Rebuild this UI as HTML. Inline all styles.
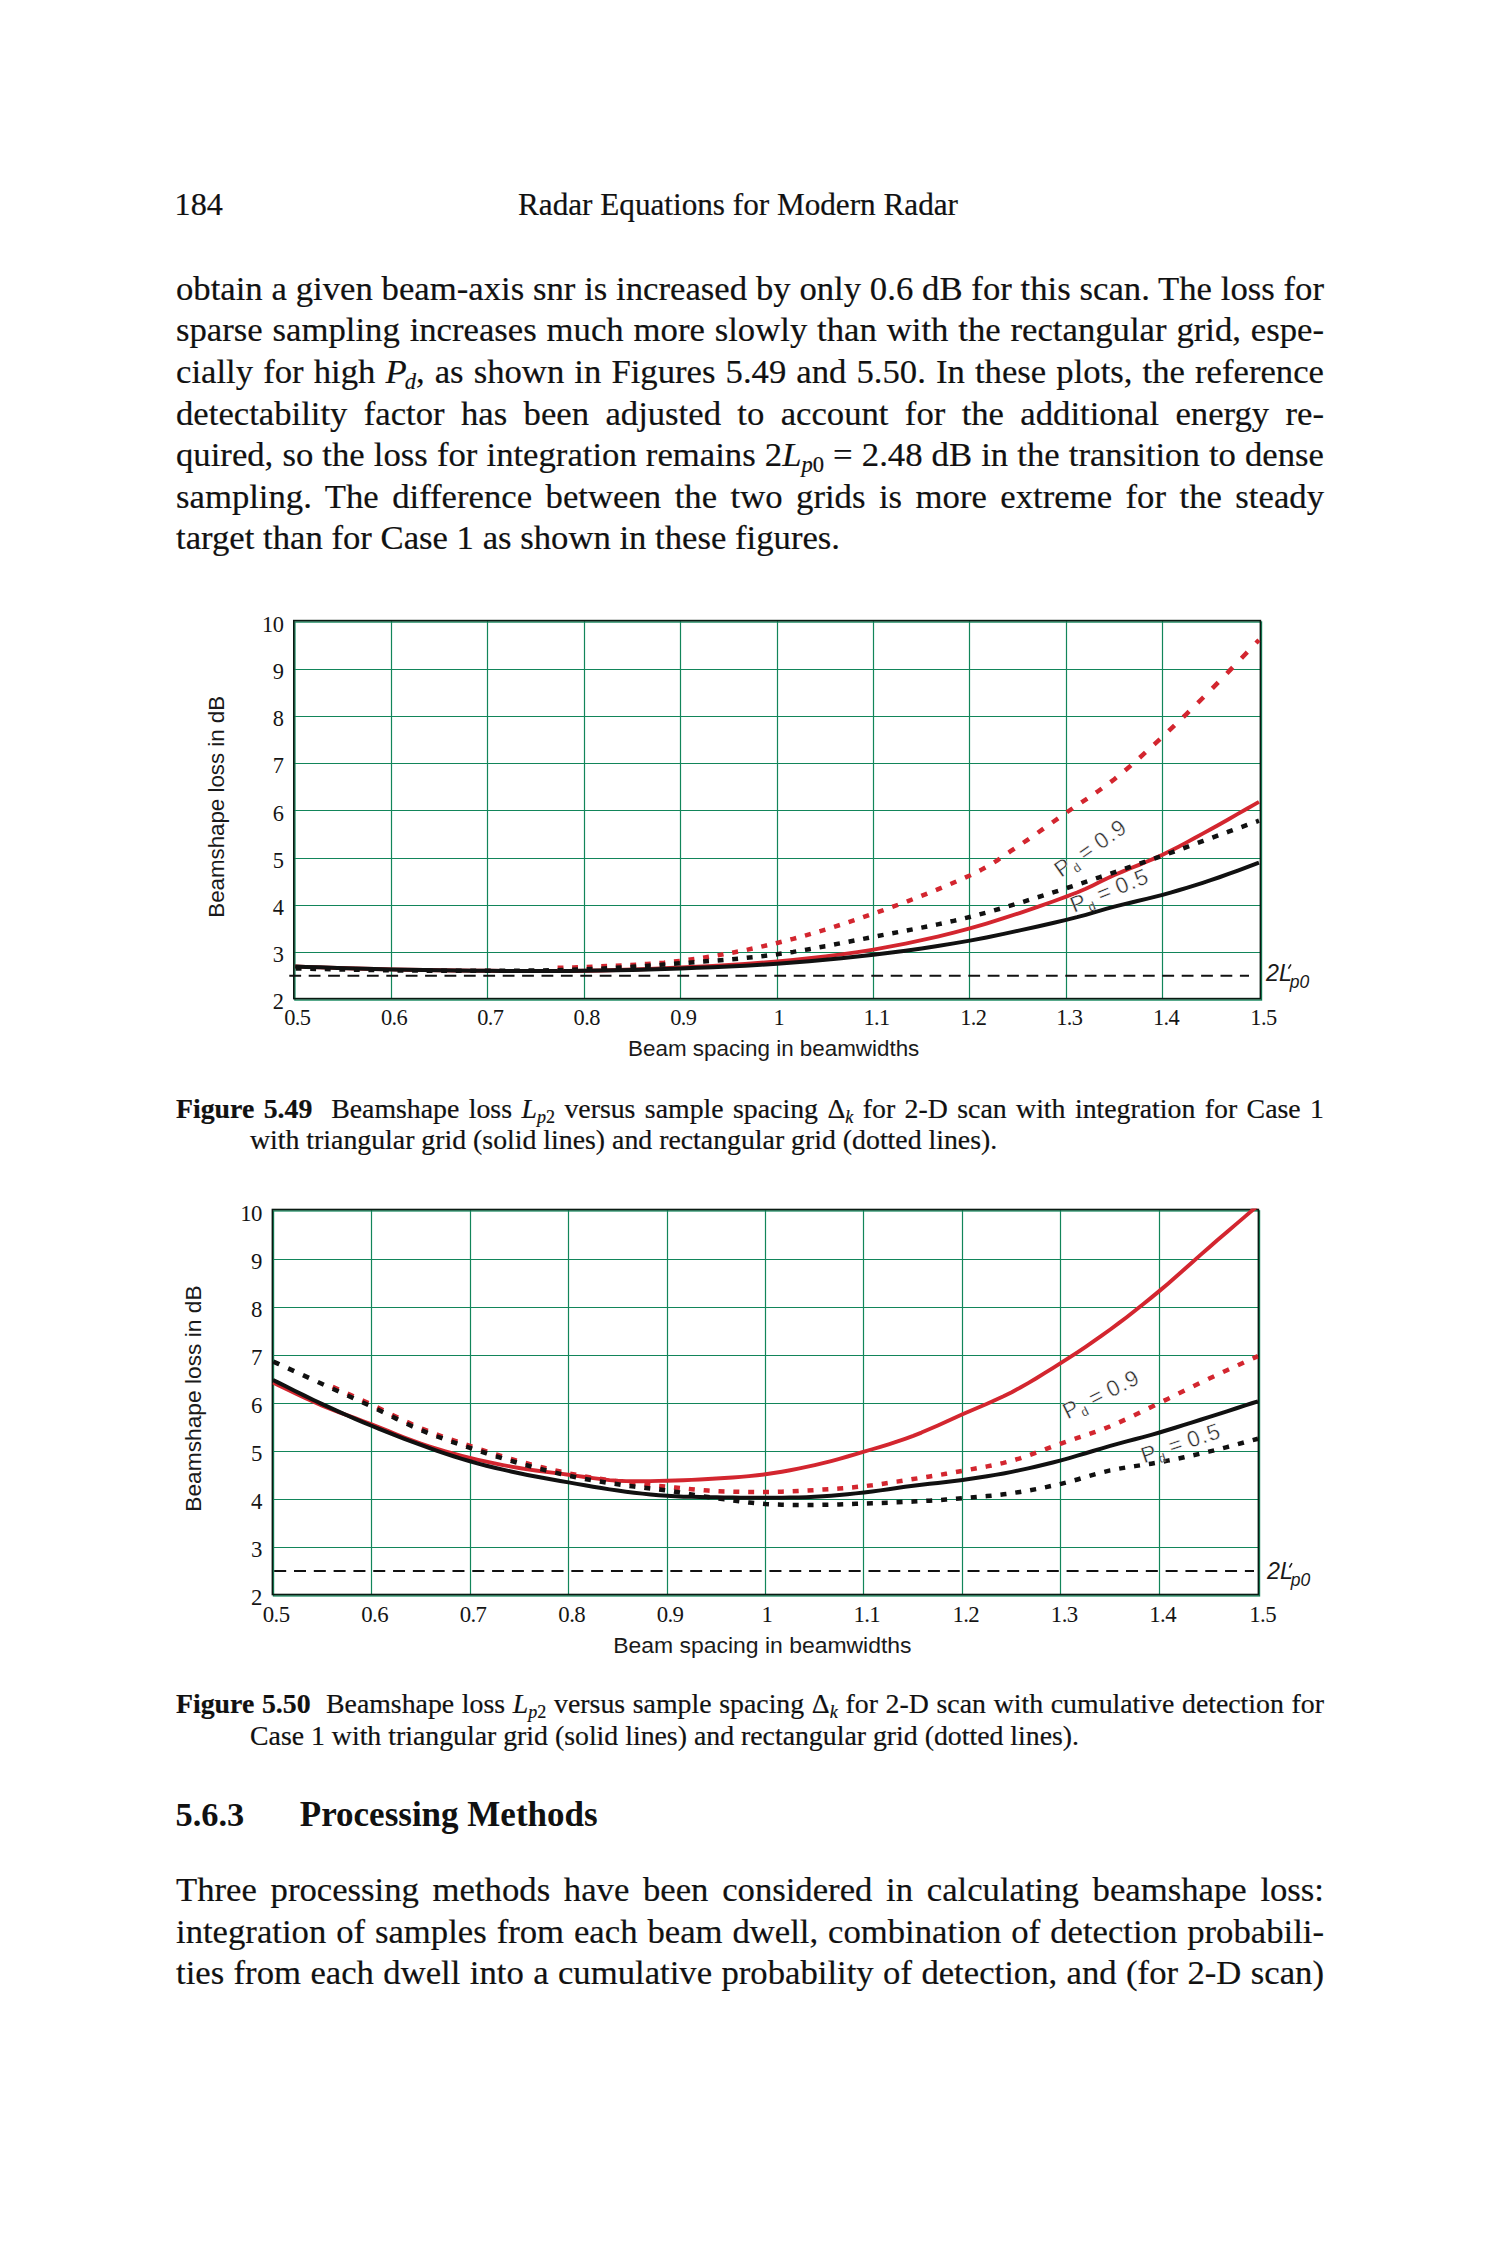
<!DOCTYPE html>
<html><head><meta charset="utf-8">
<style>
html,body{margin:0;padding:0;background:#fff;}
#pg{position:relative;width:1500px;height:2250px;overflow:hidden;background:#fff;color:#111;font-family:"Liberation Serif", serif;}
.ln{position:absolute;white-space:nowrap;line-height:1;-webkit-text-stroke:0.2px #111;}
.ln.j{text-align:justify;text-align-last:justify;white-space:normal;}
sub{font-size:65%;vertical-align:baseline;position:relative;top:0.25em;line-height:0;}
svg{position:absolute;left:0;top:0;}
</style></head><body><div id="pg">
<svg width="1500" height="2250" viewBox="0 0 1500 2250">
<line x1="391.50" y1="620.60" x2="391.50" y2="998.60" stroke="#12855a" stroke-width="1.2"/>
<line x1="487.50" y1="620.60" x2="487.50" y2="998.60" stroke="#12855a" stroke-width="1.2"/>
<line x1="584.50" y1="620.60" x2="584.50" y2="998.60" stroke="#12855a" stroke-width="1.2"/>
<line x1="680.50" y1="620.60" x2="680.50" y2="998.60" stroke="#12855a" stroke-width="1.2"/>
<line x1="777.50" y1="620.60" x2="777.50" y2="998.60" stroke="#12855a" stroke-width="1.2"/>
<line x1="873.50" y1="620.60" x2="873.50" y2="998.60" stroke="#12855a" stroke-width="1.2"/>
<line x1="969.50" y1="620.60" x2="969.50" y2="998.60" stroke="#12855a" stroke-width="1.2"/>
<line x1="1066.50" y1="620.60" x2="1066.50" y2="998.60" stroke="#12855a" stroke-width="1.2"/>
<line x1="1162.50" y1="620.60" x2="1162.50" y2="998.60" stroke="#12855a" stroke-width="1.2"/>
<line x1="293.80" y1="952.50" x2="1260.40" y2="952.50" stroke="#12855a" stroke-width="1.2"/>
<line x1="293.80" y1="905.50" x2="1260.40" y2="905.50" stroke="#12855a" stroke-width="1.2"/>
<line x1="293.80" y1="858.50" x2="1260.40" y2="858.50" stroke="#12855a" stroke-width="1.2"/>
<line x1="293.80" y1="810.50" x2="1260.40" y2="810.50" stroke="#12855a" stroke-width="1.2"/>
<line x1="293.80" y1="763.50" x2="1260.40" y2="763.50" stroke="#12855a" stroke-width="1.2"/>
<line x1="293.80" y1="716.50" x2="1260.40" y2="716.50" stroke="#12855a" stroke-width="1.2"/>
<line x1="293.80" y1="669.50" x2="1260.40" y2="669.50" stroke="#12855a" stroke-width="1.2"/>
<rect x="294.90" y="622.00" width="966.60" height="378.00" fill="none" stroke="#12855a" stroke-width="1.4"/>
<rect x="293.80" y="620.60" width="966.60" height="378.00" fill="none" stroke="#0a1a12" stroke-width="1.6"/>
<path d="M289.30 975.70H301.10M308.70 975.70H320.50M328.10 975.70H339.90M347.50 975.70H359.30M366.90 975.70H378.70M386.30 975.70H398.10M405.70 975.70H417.50M425.10 975.70H436.90M444.50 975.70H456.30M463.90 975.70H475.70M483.30 975.70H495.10M502.70 975.70H514.50M522.10 975.70H533.90M541.50 975.70H553.30M560.90 975.70H572.70M580.30 975.70H592.10M599.70 975.70H611.50M619.10 975.70H630.90M638.50 975.70H650.30M657.90 975.70H669.70M677.30 975.70H689.10M696.70 975.70H708.50M716.10 975.70H727.90M735.50 975.70H747.30M754.90 975.70H766.70M774.30 975.70H786.10M793.70 975.70H805.50M813.10 975.70H824.90M832.50 975.70H844.30M851.90 975.70H863.70M871.30 975.70H883.10M890.70 975.70H902.50M910.10 975.70H921.90M929.50 975.70H941.30M948.90 975.70H960.70M968.30 975.70H980.10M987.70 975.70H999.50M1007.10 975.70H1018.90M1026.50 975.70H1038.30M1045.90 975.70H1057.70M1065.30 975.70H1077.10M1084.70 975.70H1096.50M1104.10 975.70H1115.90M1123.50 975.70H1135.30M1142.90 975.70H1154.70M1162.30 975.70H1174.10M1181.70 975.70H1193.50M1201.10 975.70H1212.90M1220.50 975.70H1232.30M1239.90 975.70H1249.00" stroke="#111" stroke-width="2.1" fill="none"/>
<clipPath id="clip295"><rect x="293.80" y="619.60" width="966.60" height="380.00"/></clipPath>
<g clip-path="url(#clip295)" fill="none" stroke-linejoin="round">
<polyline points="295.20,966.56 305.69,966.88 320.19,967.35 337.36,967.89 355.88,968.45 374.40,968.97 391.57,969.39 407.64,969.73 423.70,970.02 439.76,970.28 455.82,970.49 471.89,970.67 487.95,970.81 504.01,970.93 520.07,971.04 536.14,971.10 552.20,971.11 568.26,971.02 584.33,970.81 600.39,970.48 616.45,970.06 632.51,969.54 648.58,968.94 664.64,968.26 680.70,967.50 696.76,966.71 712.83,965.88 728.89,964.97 744.95,963.94 761.01,962.75 777.08,961.37 793.14,959.84 809.20,958.20 825.26,956.41 841.33,954.41 857.39,952.15 873.45,949.57 889.51,946.69 905.58,943.57 921.64,940.19 937.70,936.53 953.76,932.58 969.83,928.33 986.45,923.54 1003.73,918.19 1021.02,912.55 1037.64,906.90 1052.93,901.52 1066.20,896.70 1077.02,892.50 1085.83,888.68 1093.31,885.14 1100.11,881.76 1106.91,878.41 1114.39,874.99 1122.42,871.59 1130.45,868.31 1138.48,865.08 1146.51,861.79 1154.54,858.36 1162.57,854.70 1170.61,850.77 1178.64,846.65 1186.67,842.39 1194.70,838.04 1202.73,833.63 1210.76,829.21 1219.35,824.44 1228.61,819.21 1237.87,813.93 1246.46,809.00 1253.71,804.83 1258.95,801.83" stroke="#d3262f" stroke-width="3.9"/>
<polyline points="295.20,966.56 305.69,966.88 320.19,967.35 337.36,967.89 355.88,968.45 374.40,968.97 391.57,969.39 407.64,969.73 423.70,970.02 439.76,970.28 455.82,970.49 471.89,970.67 487.95,970.81 504.01,970.92 520.07,971.00 536.14,971.04 552.20,971.04 568.26,970.96 584.33,970.81 600.39,970.58 616.45,970.28 632.51,969.92 648.58,969.50 664.64,969.01 680.70,968.45 696.76,967.85 712.83,967.21 728.89,966.50 744.95,965.70 761.01,964.79 777.08,963.73 793.14,962.54 809.20,961.25 825.26,959.83 841.33,958.29 857.39,956.60 873.45,954.76 889.51,952.78 905.58,950.67 921.64,948.42 937.70,946.00 953.76,943.40 969.83,940.60 986.45,937.43 1003.73,933.89 1021.02,930.16 1037.64,926.44 1052.93,922.93 1066.20,919.83 1077.02,917.18 1085.83,914.81 1093.31,912.66 1100.11,910.64 1106.91,908.65 1114.39,906.62 1122.42,904.60 1130.45,902.68 1138.48,900.80 1146.51,898.91 1154.54,896.93 1162.57,894.82 1170.61,892.57 1178.64,890.25 1186.67,887.85 1194.70,885.38 1202.73,882.82 1210.76,880.18 1219.35,877.24 1228.61,873.93 1237.87,870.54 1246.46,867.35 1253.71,864.65 1258.95,862.72" stroke="#111" stroke-width="4.0"/>
<path d="M557.60 967.82L563.46 967.75M572.15 967.53L573.51 967.49L578.01 967.30M586.70 966.93L592.56 966.67M601.25 966.29L607.11 966.05M615.80 965.67L621.66 965.40M630.35 964.98L636.21 964.63M644.90 964.12L646.79 964.01L650.76 963.70M659.45 963.02L664.08 962.66L665.31 962.53M674.00 961.61L679.86 960.99M688.55 959.83L694.41 959.04M703.10 957.73L708.96 956.81M717.65 955.36L723.51 954.32M732.20 952.72L738.06 951.57M746.75 949.83L752.61 948.56M761.30 946.67L767.16 945.29M775.85 943.25L777.08 942.96L781.71 941.77M790.40 939.54L793.14 938.84L796.26 937.97M804.95 935.56L809.20 934.38L810.81 933.90M819.50 931.31L825.26 929.60L825.36 929.57M834.05 926.83L839.91 924.98M848.60 922.13L854.46 920.19M863.15 917.24L869.01 915.22M877.70 912.17L883.56 910.07M892.25 906.93L898.11 904.74M906.80 901.49L907.36 901.28L912.66 899.23M921.35 895.86L924.65 894.58L927.21 893.55M935.90 890.04L941.27 887.88L941.76 887.67M950.45 884.00L956.31 881.52M965.00 877.63L969.83 875.46L970.86 874.95M979.55 870.66L980.64 870.12L985.41 867.46M994.10 862.30L996.93 860.54L999.96 858.49M1008.65 852.53L1010.54 851.22L1014.51 848.55M1023.20 842.75L1026.04 840.86L1029.06 838.79M1037.75 832.77L1042.11 829.71L1043.61 828.64M1052.30 822.48L1058.16 818.33M1066.85 812.24L1072.71 808.25M1081.40 802.42L1082.26 801.85L1087.26 798.52M1095.95 792.63L1098.33 791.01L1101.81 788.52M1110.50 782.13L1114.39 779.18L1116.36 777.58M1125.05 770.43L1130.45 765.84L1130.91 765.43M1139.60 757.75L1145.46 752.45M1154.15 744.49L1154.54 744.13L1160.01 739.07M1168.70 730.97L1170.61 729.19L1174.56 725.43M1183.25 717.10L1186.67 713.80L1189.11 711.42M1197.80 702.88L1202.73 698.00L1203.66 697.07M1212.35 688.36L1218.21 682.40M1226.90 673.45L1228.61 671.68L1232.76 667.36M1241.45 658.28L1246.46 653.03L1247.31 652.14M1256.00 643.02L1258.95 639.94" stroke="#d3262f" stroke-width="4.5" stroke-linecap="butt"/>
<path d="M295.70 968.46L301.56 968.58M310.25 968.77L316.11 968.90M324.80 969.09L330.66 969.22M339.35 969.40L345.21 969.52M353.90 969.70L355.88 969.74L359.76 969.81M368.45 969.97L374.31 970.08M383.00 970.21L388.86 970.30M397.55 970.40L403.41 970.47M412.10 970.56L417.96 970.61M426.65 970.69L432.51 970.73M441.20 970.78L447.06 970.81M455.75 970.84L455.82 970.84L461.61 970.85M470.30 970.85L471.89 970.85L476.16 970.84M484.85 970.82L487.95 970.81L490.71 970.80M499.40 970.76L504.01 970.74L505.26 970.73M513.95 970.68L519.81 970.65M528.50 970.58L534.36 970.53M543.05 970.41L548.91 970.33M557.60 970.16L563.46 970.03M572.15 969.79L578.01 969.60M586.70 969.29L592.56 969.02M601.25 968.63L607.11 968.31M615.80 967.84L616.45 967.80L621.66 967.48M630.35 966.93L632.51 966.80L636.21 966.54M644.90 965.94L648.58 965.69L650.76 965.52M659.45 964.88L664.64 964.50L665.31 964.45M674.00 963.77L679.86 963.32M688.55 962.65L694.41 962.20M703.10 961.54L708.96 961.09M717.65 960.40L723.51 959.92M732.20 959.18L738.06 958.64M746.75 957.82L752.61 957.20M761.30 956.27L767.16 955.53M775.85 954.44L777.08 954.29L781.71 953.60M790.40 952.30L793.14 951.90L796.26 951.37M804.95 949.90L809.20 949.18L810.81 948.89M819.50 947.29L825.26 946.23L825.36 946.22M834.05 944.54L839.91 943.41M848.60 941.70L854.46 940.55M863.15 938.84L869.01 937.69M877.70 936.01L883.56 934.90M892.25 933.24L898.11 932.13M906.80 930.49L912.66 929.35M921.35 927.68L921.64 927.62L927.21 926.49M935.90 924.73L937.70 924.36L941.76 923.47M950.45 921.57L953.76 920.85L956.31 920.24M965.00 918.16L969.83 917.00L970.86 916.73M979.55 914.44L985.41 912.89M994.10 910.43L999.96 908.77M1008.65 906.20L1014.51 904.45M1023.20 901.79L1029.06 899.97M1037.75 897.25L1043.61 895.40M1052.30 892.64L1058.16 890.77M1066.85 888.00L1072.71 886.10M1081.40 883.28L1082.82 882.82L1087.26 881.35M1095.95 878.46L1100.11 877.07L1101.81 876.50M1110.50 873.55L1116.36 871.57M1125.05 868.59L1130.91 866.58M1139.60 863.59L1145.46 861.56M1154.15 858.56L1160.01 856.53M1168.70 853.50L1173.39 851.86L1174.56 851.44M1183.25 848.32L1189.11 846.17M1197.80 842.95L1203.29 840.91L1203.66 840.78M1212.35 837.60L1218.21 835.48M1226.90 832.33L1228.61 831.71L1232.76 830.20M1241.45 827.05L1246.46 825.24L1247.31 824.93M1256.00 821.78L1258.95 820.71" stroke="#111" stroke-width="4.5" stroke-linecap="butt"/>
</g>
<text x="283.50" y="1009.40" text-anchor="end" font-family="Liberation Serif" font-size="22.4" letter-spacing="-0.5" fill="#151515">2</text>
<text x="283.50" y="962.20" text-anchor="end" font-family="Liberation Serif" font-size="22.4" letter-spacing="-0.5" fill="#151515">3</text>
<text x="283.50" y="915.00" text-anchor="end" font-family="Liberation Serif" font-size="22.4" letter-spacing="-0.5" fill="#151515">4</text>
<text x="283.50" y="867.80" text-anchor="end" font-family="Liberation Serif" font-size="22.4" letter-spacing="-0.5" fill="#151515">5</text>
<text x="283.50" y="820.60" text-anchor="end" font-family="Liberation Serif" font-size="22.4" letter-spacing="-0.5" fill="#151515">6</text>
<text x="283.50" y="773.40" text-anchor="end" font-family="Liberation Serif" font-size="22.4" letter-spacing="-0.5" fill="#151515">7</text>
<text x="283.50" y="726.20" text-anchor="end" font-family="Liberation Serif" font-size="22.4" letter-spacing="-0.5" fill="#151515">8</text>
<text x="283.50" y="679.00" text-anchor="end" font-family="Liberation Serif" font-size="22.4" letter-spacing="-0.5" fill="#151515">9</text>
<text x="283.50" y="631.80" text-anchor="end" font-family="Liberation Serif" font-size="22.4" letter-spacing="-0.5" fill="#151515">10</text>
<text x="297.30" y="1025.00" text-anchor="middle" font-family="Liberation Serif" font-size="22.4" letter-spacing="-0.6" fill="#151515">0.5</text>
<text x="394.00" y="1025.00" text-anchor="middle" font-family="Liberation Serif" font-size="22.4" letter-spacing="-0.6" fill="#151515">0.6</text>
<text x="490.30" y="1025.00" text-anchor="middle" font-family="Liberation Serif" font-size="22.4" letter-spacing="-0.6" fill="#151515">0.7</text>
<text x="586.70" y="1025.00" text-anchor="middle" font-family="Liberation Serif" font-size="22.4" letter-spacing="-0.6" fill="#151515">0.8</text>
<text x="683.30" y="1025.00" text-anchor="middle" font-family="Liberation Serif" font-size="22.4" letter-spacing="-0.6" fill="#151515">0.9</text>
<text x="778.70" y="1025.00" text-anchor="middle" font-family="Liberation Serif" font-size="22.4" letter-spacing="-0.6" fill="#151515">1</text>
<text x="876.60" y="1025.00" text-anchor="middle" font-family="Liberation Serif" font-size="22.4" letter-spacing="-0.6" fill="#151515">1.1</text>
<text x="973.30" y="1025.00" text-anchor="middle" font-family="Liberation Serif" font-size="22.4" letter-spacing="-0.6" fill="#151515">1.2</text>
<text x="1069.30" y="1025.00" text-anchor="middle" font-family="Liberation Serif" font-size="22.4" letter-spacing="-0.6" fill="#151515">1.3</text>
<text x="1166.00" y="1025.00" text-anchor="middle" font-family="Liberation Serif" font-size="22.4" letter-spacing="-0.6" fill="#151515">1.4</text>
<text x="1263.40" y="1025.00" text-anchor="middle" font-family="Liberation Serif" font-size="22.4" letter-spacing="-0.6" fill="#151515">1.5</text>
<text transform="translate(223.80,806.80) rotate(-90)" text-anchor="middle" font-family="Liberation Sans" font-size="22.3" fill="#1a1a1a">Beamshape loss in dB</text>
<text x="773.70" y="1056.00" text-anchor="middle" font-family="Liberation Sans" font-size="22.4" fill="#1a1a1a">Beam spacing in beamwidths</text>
<text x="1266.00" y="980.50" font-family="Liberation Sans" font-style="italic" font-size="23.3" fill="#1a1a1a">2L</text>
<path d="M1291.00 964.30L1288.40 968.70" stroke="#1a1a1a" stroke-width="1.5" fill="none"/>
<text x="1289.80" y="987.50" font-family="Liberation Sans" font-style="italic" font-size="17.5" fill="#1a1a1a">p0</text>
<text transform="translate(1061.00,878.00) rotate(-35)" font-family="Liberation Sans" font-size="22.5" fill="#262626" stroke="#fff" stroke-width="0.45" paint-order="normal" letter-spacing="1.0">P<tspan font-size="12.4" dy="5" dx="-0.5" stroke-width="0.15">d</tspan><tspan dy="-5" dx="5.5">=</tspan><tspan dx="5.5">0.9</tspan></text>
<text transform="translate(1074.00,913.00) rotate(-22)" font-family="Liberation Sans" font-size="22.5" fill="#262626" stroke="#fff" stroke-width="0.45" paint-order="normal" letter-spacing="1.0">P<tspan font-size="12.4" dy="5" dx="-0.5" stroke-width="0.15">d</tspan><tspan dy="-5" dx="5.5">=</tspan><tspan dx="5.5">0.5</tspan></text>
<line x1="371.50" y1="1209.50" x2="371.50" y2="1594.50" stroke="#12855a" stroke-width="1.2"/>
<line x1="470.50" y1="1209.50" x2="470.50" y2="1594.50" stroke="#12855a" stroke-width="1.2"/>
<line x1="568.50" y1="1209.50" x2="568.50" y2="1594.50" stroke="#12855a" stroke-width="1.2"/>
<line x1="667.50" y1="1209.50" x2="667.50" y2="1594.50" stroke="#12855a" stroke-width="1.2"/>
<line x1="765.50" y1="1209.50" x2="765.50" y2="1594.50" stroke="#12855a" stroke-width="1.2"/>
<line x1="863.50" y1="1209.50" x2="863.50" y2="1594.50" stroke="#12855a" stroke-width="1.2"/>
<line x1="962.50" y1="1209.50" x2="962.50" y2="1594.50" stroke="#12855a" stroke-width="1.2"/>
<line x1="1060.50" y1="1209.50" x2="1060.50" y2="1594.50" stroke="#12855a" stroke-width="1.2"/>
<line x1="1159.50" y1="1209.50" x2="1159.50" y2="1594.50" stroke="#12855a" stroke-width="1.2"/>
<line x1="272.40" y1="1547.50" x2="1258.40" y2="1547.50" stroke="#12855a" stroke-width="1.2"/>
<line x1="272.40" y1="1499.50" x2="1258.40" y2="1499.50" stroke="#12855a" stroke-width="1.2"/>
<line x1="272.40" y1="1451.50" x2="1258.40" y2="1451.50" stroke="#12855a" stroke-width="1.2"/>
<line x1="272.40" y1="1403.50" x2="1258.40" y2="1403.50" stroke="#12855a" stroke-width="1.2"/>
<line x1="272.40" y1="1355.50" x2="1258.40" y2="1355.50" stroke="#12855a" stroke-width="1.2"/>
<line x1="272.40" y1="1307.50" x2="1258.40" y2="1307.50" stroke="#12855a" stroke-width="1.2"/>
<line x1="272.40" y1="1259.50" x2="1258.40" y2="1259.50" stroke="#12855a" stroke-width="1.2"/>
<rect x="273.50" y="1210.90" width="986.00" height="385.00" fill="none" stroke="#12855a" stroke-width="1.4"/>
<rect x="272.40" y="1209.50" width="986.00" height="385.00" fill="none" stroke="#0a1a12" stroke-width="1.6"/>
<path d="M274.19 1571.00H286.19M294.00 1571.00H306.00M313.81 1571.00H325.81M333.62 1571.00H345.62M353.43 1571.00H365.43M373.24 1571.00H385.24M393.05 1571.00H405.05M412.86 1571.00H424.86M432.67 1571.00H444.67M452.48 1571.00H464.48M472.29 1571.00H484.29M492.10 1571.00H504.10M511.91 1571.00H523.91M531.72 1571.00H543.72M551.53 1571.00H563.53M571.34 1571.00H583.34M591.15 1571.00H603.15M610.96 1571.00H622.96M630.77 1571.00H642.77M650.58 1571.00H662.58M670.39 1571.00H682.39M690.20 1571.00H702.20M710.01 1571.00H722.01M729.82 1571.00H741.82M749.63 1571.00H761.63M769.44 1571.00H781.44M789.25 1571.00H801.25M809.06 1571.00H821.06M828.87 1571.00H840.87M848.68 1571.00H860.68M868.49 1571.00H880.49M888.30 1571.00H900.30M908.11 1571.00H920.11M927.92 1571.00H939.92M947.73 1571.00H959.73M967.54 1571.00H979.54M987.35 1571.00H999.35M1007.16 1571.00H1019.16M1026.97 1571.00H1038.97M1046.78 1571.00H1058.78M1066.59 1571.00H1078.59M1086.40 1571.00H1098.40M1106.21 1571.00H1118.21M1126.02 1571.00H1138.02M1145.83 1571.00H1157.83M1165.64 1571.00H1177.64M1185.45 1571.00H1197.45M1205.26 1571.00H1217.26M1225.07 1571.00H1237.07M1244.88 1571.00H1254.00" stroke="#111" stroke-width="2.1" fill="none"/>
<clipPath id="clip273"><rect x="272.40" y="1208.50" width="986.00" height="387.00"/></clipPath>
<g clip-path="url(#clip273)" fill="none" stroke-linejoin="round">
<polyline points="273.00,1382.56 278.36,1385.12 285.77,1388.69 294.55,1392.91 304.01,1397.39 313.47,1401.74 322.25,1405.60 330.46,1408.96 338.67,1412.14 346.88,1415.20 355.08,1418.20 363.29,1421.22 371.50,1424.32 379.71,1427.55 387.92,1430.86 396.12,1434.19 404.33,1437.46 412.54,1440.59 420.75,1443.52 428.96,1446.25 437.17,1448.84 445.38,1451.29 453.58,1453.62 461.79,1455.83 470.00,1457.92 478.21,1459.89 486.42,1461.72 494.62,1463.44 502.83,1465.05 511.04,1466.56 519.25,1468.00 527.46,1469.32 535.67,1470.52 543.88,1471.62 552.08,1472.66 560.29,1473.68 568.50,1474.72 576.71,1475.83 584.92,1477.00 593.12,1478.14 601.33,1479.19 609.54,1480.08 617.75,1480.72 625.96,1481.09 634.17,1481.24 642.38,1481.23 650.58,1481.10 658.79,1480.91 667.00,1480.72 675.21,1480.51 683.42,1480.24 691.62,1479.91 699.83,1479.52 708.04,1479.07 716.25,1478.56 724.46,1478.02 732.67,1477.46 740.88,1476.84 749.08,1476.12 757.29,1475.26 765.50,1474.24 773.71,1473.05 781.92,1471.72 790.12,1470.25 798.33,1468.66 806.54,1466.95 814.75,1465.12 822.96,1463.16 831.17,1461.05 839.38,1458.82 847.58,1456.50 855.79,1454.11 864.00,1451.68 872.21,1449.25 880.42,1446.79 888.62,1444.27 896.83,1441.64 905.04,1438.84 913.25,1435.84 921.46,1432.58 929.67,1429.08 937.87,1425.43 946.08,1421.69 954.29,1417.93 962.50,1414.24 970.71,1410.67 978.92,1407.18 987.13,1403.68 995.33,1400.07 1003.54,1396.26 1011.75,1392.16 1019.96,1387.74 1028.17,1383.08 1036.38,1378.22 1044.58,1373.21 1052.79,1368.08 1061.00,1362.88 1069.21,1357.62 1077.42,1352.26 1085.63,1346.79 1093.83,1341.18 1102.04,1335.43 1110.25,1329.52 1118.46,1323.44 1126.67,1317.20 1134.88,1310.82 1143.08,1304.29 1151.29,1297.64 1159.50,1290.88 1167.71,1283.93 1175.92,1276.78 1184.12,1269.51 1192.33,1262.18 1200.54,1254.88 1208.75,1247.68 1217.53,1240.10 1226.99,1231.96 1236.45,1223.86 1245.23,1216.36 1252.64,1210.02 1258.00,1205.44" stroke="#d3262f" stroke-width="3.9"/>
<polyline points="273.00,1379.92 278.36,1382.59 285.77,1386.30 294.55,1390.69 304.01,1395.38 313.47,1399.99 322.25,1404.16 330.46,1407.94 338.67,1411.64 346.88,1415.28 355.08,1418.84 363.29,1422.33 371.50,1425.76 379.71,1429.13 387.92,1432.44 396.12,1435.69 404.33,1438.86 412.54,1441.95 420.75,1444.96 428.96,1447.90 437.17,1450.77 445.38,1453.57 453.58,1456.27 461.79,1458.84 470.00,1461.28 478.21,1463.56 486.42,1465.71 494.62,1467.73 502.83,1469.65 511.04,1471.50 519.25,1473.28 527.46,1474.98 535.67,1476.57 543.88,1478.08 552.08,1479.54 560.29,1480.97 568.50,1482.40 576.71,1483.85 584.92,1485.30 593.12,1486.72 601.33,1488.09 609.54,1489.38 617.75,1490.56 625.96,1491.65 634.17,1492.68 642.38,1493.62 650.58,1494.47 658.79,1495.22 667.00,1495.84 675.21,1496.31 683.42,1496.64 691.62,1496.86 699.83,1497.01 708.04,1497.14 716.25,1497.28 724.46,1497.43 732.67,1497.56 740.88,1497.67 749.08,1497.74 757.29,1497.77 765.50,1497.76 773.71,1497.72 781.92,1497.67 790.12,1497.58 798.33,1497.42 806.54,1497.17 814.75,1496.80 822.96,1496.30 831.17,1495.70 839.38,1495.00 847.58,1494.22 855.79,1493.38 864.00,1492.48 872.21,1491.49 880.42,1490.38 888.62,1489.21 896.83,1488.02 905.04,1486.85 913.25,1485.76 921.46,1484.77 929.67,1483.86 937.87,1482.97 946.08,1482.06 954.29,1481.09 962.50,1480.00 970.71,1478.82 978.92,1477.58 987.13,1476.28 995.33,1474.90 1003.54,1473.42 1011.75,1471.84 1019.96,1470.15 1028.17,1468.36 1036.38,1466.47 1044.58,1464.50 1052.79,1462.45 1061.00,1460.32 1069.21,1458.08 1077.42,1455.70 1085.63,1453.24 1093.83,1450.76 1102.04,1448.30 1110.25,1445.92 1118.46,1443.65 1126.67,1441.44 1134.88,1439.26 1143.08,1437.07 1151.29,1434.82 1159.50,1432.48 1167.71,1430.04 1175.92,1427.52 1184.12,1424.95 1192.33,1422.35 1200.54,1419.73 1208.75,1417.12 1217.53,1414.32 1226.99,1411.29 1236.45,1408.24 1245.23,1405.40 1252.64,1403.01 1258.00,1401.28" stroke="#111" stroke-width="4.0"/>
<path d="M332.66 1386.83L338.64 1389.55M347.50 1393.59L353.48 1396.31M362.34 1400.39L363.29 1400.82L368.32 1403.16M377.18 1407.36L379.71 1408.57L383.16 1410.27M392.02 1414.66L396.12 1416.70L398.00 1417.61M406.86 1421.90L412.54 1424.56L412.84 1424.69M421.70 1428.54L427.68 1430.96M436.54 1434.36L437.17 1434.60L442.52 1436.52M451.38 1439.63L453.58 1440.39L457.36 1441.67M466.22 1444.65L470.00 1445.92L472.20 1446.65M481.06 1449.59L486.42 1451.34L487.04 1451.54M495.90 1454.35L501.88 1456.20M510.74 1458.85L511.04 1458.94L516.72 1460.56M525.58 1463.01L527.46 1463.52L531.56 1464.59M540.42 1466.86L543.88 1467.73L546.40 1468.33M555.26 1470.41L560.29 1471.54L561.24 1471.74M570.10 1473.59L576.08 1474.77M584.94 1476.40L590.92 1477.41M599.78 1478.83L601.33 1479.08L605.76 1479.73M614.62 1481.00L617.75 1481.44L620.60 1481.81M629.46 1482.90L634.17 1483.45L635.44 1483.58M644.30 1484.51L650.28 1485.11M659.14 1485.96L665.12 1486.54M673.98 1487.41L675.21 1487.53L679.96 1488.01M688.82 1488.88L691.62 1489.15L694.80 1489.43M703.66 1490.18L708.04 1490.53L709.64 1490.63M718.50 1491.15L724.46 1491.43L724.48 1491.43M733.34 1491.73L739.32 1491.87M748.18 1492.01L749.08 1492.02L754.16 1492.03M763.02 1492.01L765.50 1492.00L769.00 1491.94M777.86 1491.76L781.92 1491.64L783.84 1491.57M792.70 1491.22L798.33 1490.97L798.68 1490.95M807.54 1490.49L813.52 1490.15M822.38 1489.62L822.96 1489.59L828.36 1489.25M837.22 1488.64L839.38 1488.49L843.20 1488.19M852.06 1487.43L855.79 1487.10L858.04 1486.86M866.90 1485.89L872.21 1485.25L872.88 1485.15M881.74 1483.93L887.72 1483.04M896.58 1481.67L896.83 1481.64L902.56 1480.73M911.42 1479.33L913.25 1479.04L917.40 1478.39M926.26 1477.00L929.67 1476.46L932.24 1476.05M941.10 1474.60L946.08 1473.78L947.08 1473.61M955.94 1472.06L961.92 1470.99M970.78 1469.38L976.76 1468.31M985.62 1466.69L987.13 1466.41L991.60 1465.51M1000.46 1463.61L1003.54 1462.92L1006.44 1462.17M1015.30 1459.73L1019.96 1458.34L1021.28 1457.89M1030.14 1454.86L1036.12 1452.70M1044.98 1449.40L1050.96 1447.17M1059.82 1443.95L1061.00 1443.52L1065.80 1441.88M1074.66 1438.90L1077.42 1437.98L1080.64 1436.91M1089.50 1433.93L1093.83 1432.45L1095.48 1431.85M1104.34 1428.57L1110.25 1426.24L1110.32 1426.21M1119.18 1422.38L1125.16 1419.64M1134.02 1415.42L1134.88 1415.01L1140.00 1412.49M1148.86 1408.12L1151.29 1406.92L1154.84 1405.19M1163.70 1400.86L1167.71 1398.91L1169.68 1397.94M1178.54 1393.55L1184.12 1390.77L1184.52 1390.57M1193.38 1386.18L1199.36 1383.25M1208.22 1378.97L1208.75 1378.72L1214.20 1376.17M1223.06 1372.06L1226.99 1370.24L1229.04 1369.31M1237.90 1365.27L1243.88 1362.56M1252.74 1358.55L1258.00 1356.16" stroke="#d3262f" stroke-width="4.5" stroke-linecap="butt"/>
<path d="M273.30 1361.58L278.36 1363.89L279.28 1364.31M288.14 1368.38L294.12 1371.11M302.98 1375.17L304.01 1375.64L308.96 1377.91M317.82 1381.97L322.25 1384.00L323.80 1384.71M332.66 1388.75L338.64 1391.47M347.50 1395.51L353.48 1398.23M362.34 1402.31L363.29 1402.74L368.32 1405.08M377.18 1409.28L379.71 1410.49L383.16 1412.19M392.02 1416.58L396.12 1418.62L398.00 1419.53M406.86 1423.82L412.54 1426.48L412.84 1426.61M421.70 1430.46L427.68 1432.88M436.54 1436.28L437.17 1436.52L442.52 1438.44M451.38 1441.55L453.58 1442.31L457.36 1443.59M466.22 1446.57L470.00 1447.84L472.20 1448.57M481.06 1451.50L486.42 1453.24L487.04 1453.44M495.90 1456.24L501.88 1458.09M510.74 1460.74L511.04 1460.83L516.72 1462.47M525.58 1464.97L527.46 1465.49L531.56 1466.60M540.42 1468.96L543.88 1469.86L546.40 1470.49M555.26 1472.66L560.29 1473.86L561.24 1474.07M570.10 1476.01L576.08 1477.24M584.94 1478.94L590.92 1480.00M599.78 1481.50L601.33 1481.76L605.76 1482.46M614.62 1483.84L617.75 1484.32L620.60 1484.72M629.46 1485.93L634.17 1486.52L635.44 1486.68M644.30 1487.73L650.28 1488.43M659.14 1489.51L665.12 1490.31M673.98 1491.60L675.21 1491.78L679.96 1492.53M688.82 1493.97L691.62 1494.43L694.80 1494.95M703.66 1496.37L708.04 1497.05L709.64 1497.28M718.50 1498.55L724.46 1499.37L724.48 1499.37M733.34 1500.57L739.32 1501.34M748.18 1502.40L749.08 1502.51L754.16 1503.02M763.02 1503.80L765.50 1504.00L769.00 1504.20M777.86 1504.62L781.92 1504.76L783.84 1504.80M792.70 1504.95L798.33 1505.00L798.68 1505.00M807.54 1504.99L813.52 1504.97M822.38 1504.87L822.96 1504.86L828.36 1504.74M837.22 1504.49L839.38 1504.42L843.20 1504.28M852.06 1503.96L855.79 1503.82L858.04 1503.73M866.90 1503.42L872.21 1503.24L872.88 1503.22M881.74 1502.92L887.72 1502.71M896.58 1502.37L896.83 1502.36L902.56 1502.12M911.42 1501.69L913.25 1501.60L917.40 1501.37M926.26 1500.85L929.67 1500.65L932.24 1500.48M941.10 1499.89L946.08 1499.54L947.08 1499.46M955.94 1498.78L961.92 1498.29M970.78 1497.54L976.76 1497.03M985.62 1496.23L987.13 1496.10L991.60 1495.64M1000.46 1494.67L1003.54 1494.31L1006.44 1493.92M1015.30 1492.65L1019.96 1491.94L1021.28 1491.71M1030.14 1490.19L1036.12 1489.09M1044.98 1487.34L1050.96 1486.07M1059.82 1484.11L1061.00 1483.84L1065.80 1482.63M1074.66 1480.24L1077.42 1479.47L1080.64 1478.52M1089.50 1475.91L1093.83 1474.64L1095.48 1474.19M1104.34 1471.83L1110.25 1470.40L1110.32 1470.39M1119.18 1468.64L1125.16 1467.63M1134.02 1466.27L1134.88 1466.14L1140.00 1465.39M1148.86 1464.05L1151.29 1463.68L1154.84 1463.06M1163.70 1461.42L1167.71 1460.65L1169.68 1460.25M1178.54 1458.43L1184.12 1457.26L1184.52 1457.17M1193.38 1455.23L1199.36 1453.88M1208.22 1451.80L1208.75 1451.68L1214.20 1450.33M1223.06 1448.08L1226.99 1447.06L1229.04 1446.51M1237.90 1444.15L1243.88 1442.54M1252.74 1440.13L1258.00 1438.72" stroke="#111" stroke-width="4.5" stroke-linecap="butt"/>
</g>
<text x="262.00" y="1605.00" text-anchor="end" font-family="Liberation Serif" font-size="22.8" letter-spacing="-0.5" fill="#151515">2</text>
<text x="262.00" y="1557.00" text-anchor="end" font-family="Liberation Serif" font-size="22.8" letter-spacing="-0.5" fill="#151515">3</text>
<text x="262.00" y="1509.00" text-anchor="end" font-family="Liberation Serif" font-size="22.8" letter-spacing="-0.5" fill="#151515">4</text>
<text x="262.00" y="1461.00" text-anchor="end" font-family="Liberation Serif" font-size="22.8" letter-spacing="-0.5" fill="#151515">5</text>
<text x="262.00" y="1413.00" text-anchor="end" font-family="Liberation Serif" font-size="22.8" letter-spacing="-0.5" fill="#151515">6</text>
<text x="262.00" y="1365.00" text-anchor="end" font-family="Liberation Serif" font-size="22.8" letter-spacing="-0.5" fill="#151515">7</text>
<text x="262.00" y="1317.00" text-anchor="end" font-family="Liberation Serif" font-size="22.8" letter-spacing="-0.5" fill="#151515">8</text>
<text x="262.00" y="1269.00" text-anchor="end" font-family="Liberation Serif" font-size="22.8" letter-spacing="-0.5" fill="#151515">9</text>
<text x="262.00" y="1221.00" text-anchor="end" font-family="Liberation Serif" font-size="22.8" letter-spacing="-0.5" fill="#151515">10</text>
<text x="276.10" y="1621.70" text-anchor="middle" font-family="Liberation Serif" font-size="22.8" letter-spacing="-0.6" fill="#151515">0.5</text>
<text x="374.60" y="1621.70" text-anchor="middle" font-family="Liberation Serif" font-size="22.8" letter-spacing="-0.6" fill="#151515">0.6</text>
<text x="473.00" y="1621.70" text-anchor="middle" font-family="Liberation Serif" font-size="22.8" letter-spacing="-0.6" fill="#151515">0.7</text>
<text x="571.70" y="1621.70" text-anchor="middle" font-family="Liberation Serif" font-size="22.8" letter-spacing="-0.6" fill="#151515">0.8</text>
<text x="670.00" y="1621.70" text-anchor="middle" font-family="Liberation Serif" font-size="22.8" letter-spacing="-0.6" fill="#151515">0.9</text>
<text x="766.80" y="1621.70" text-anchor="middle" font-family="Liberation Serif" font-size="22.8" letter-spacing="-0.6" fill="#151515">1</text>
<text x="866.80" y="1621.70" text-anchor="middle" font-family="Liberation Serif" font-size="22.8" letter-spacing="-0.6" fill="#151515">1.1</text>
<text x="965.80" y="1621.70" text-anchor="middle" font-family="Liberation Serif" font-size="22.8" letter-spacing="-0.6" fill="#151515">1.2</text>
<text x="1064.20" y="1621.70" text-anchor="middle" font-family="Liberation Serif" font-size="22.8" letter-spacing="-0.6" fill="#151515">1.3</text>
<text x="1162.60" y="1621.70" text-anchor="middle" font-family="Liberation Serif" font-size="22.8" letter-spacing="-0.6" fill="#151515">1.4</text>
<text x="1262.60" y="1621.70" text-anchor="middle" font-family="Liberation Serif" font-size="22.8" letter-spacing="-0.6" fill="#151515">1.5</text>
<text transform="translate(200.90,1398.60) rotate(-90)" text-anchor="middle" font-family="Liberation Sans" font-size="22.75" fill="#1a1a1a">Beamshape loss in dB</text>
<text x="762.40" y="1653.20" text-anchor="middle" font-family="Liberation Sans" font-size="22.95" fill="#1a1a1a">Beam spacing in beamwidths</text>
<text x="1267.00" y="1579.30" font-family="Liberation Sans" font-style="italic" font-size="23.3" fill="#1a1a1a">2L</text>
<path d="M1292.00 1563.10L1289.40 1567.50" stroke="#1a1a1a" stroke-width="1.5" fill="none"/>
<text x="1290.80" y="1586.30" font-family="Liberation Sans" font-style="italic" font-size="17.5" fill="#1a1a1a">p0</text>
<text transform="translate(1067.50,1419.50) rotate(-26.5)" font-family="Liberation Sans" font-size="22.5" fill="#262626" stroke="#fff" stroke-width="0.45" paint-order="normal" letter-spacing="1.0">P<tspan font-size="12.4" dy="5" dx="-0.5" stroke-width="0.15">d</tspan><tspan dy="-5" dx="5.5">=</tspan><tspan dx="5.5">0.9</tspan></text>
<text transform="translate(1144.00,1463.50) rotate(-18.5)" font-family="Liberation Sans" font-size="22.5" fill="#262626" stroke="#fff" stroke-width="0.45" paint-order="normal" letter-spacing="1.0">P<tspan font-size="12.4" dy="5" dx="-0.5" stroke-width="0.15">d</tspan><tspan dy="-5" dx="5.5">=</tspan><tspan dx="5.5">0.5</tspan></text>
</svg>
<div class="ln" style="left:174.6px;top:188.03px;font-size:32.2px;">184</div>
<div class="ln" style="left:518px;top:188.87px;font-size:31.2px;">Radar Equations for Modern Radar</div>
<div class="ln j" style="left:176px;top:271.94px;font-size:34.7px;width:1148px;">obtain a given beam-axis snr is increased by only 0.6 dB for this scan. The loss for</div>
<div class="ln j" style="left:176px;top:313.49px;font-size:34.7px;width:1148px;">sparse sampling increases much more slowly than with the rectangular grid, espe-</div>
<div class="ln j" style="left:176px;top:355.04px;font-size:34.7px;width:1148px;">cially for high <i>P<sub style='margin-left:-0.09em'>d</sub></i>, as shown in Figures 5.49 and 5.50. In these plots, the reference</div>
<div class="ln j" style="left:176px;top:396.59px;font-size:34.7px;width:1148px;">detectability factor has been adjusted to account for the additional energy re-</div>
<div class="ln j" style="left:176px;top:438.14px;font-size:34.7px;width:1148px;">quired, so the loss for integration remains 2<i>L<sub>p</sub></i><sub>0</sub> = 2.48 dB in the transition to dense</div>
<div class="ln j" style="left:176px;top:479.69px;font-size:34.7px;width:1148px;">sampling. The difference between the two grids is more extreme for the steady</div>
<div class="ln" style="left:176px;top:521.24px;font-size:34.7px;">target than for Case 1 as shown in these figures.</div>
<div class="ln j" style="left:176px;top:1095.22px;font-size:27.8px;width:1148px;"><b>Figure 5.49</b>&nbsp; Beamshape loss <i>L<sub>p</sub></i><sub>2</sub> versus sample spacing &Delta;<sub><i>k</i></sub> for 2-D scan with integration for Case 1</div>
<div class="ln" style="left:250px;top:1126.42px;font-size:27.8px;">with triangular grid (solid lines) and rectangular grid (dotted lines).</div>
<div class="ln j" style="left:176px;top:1690.42px;font-size:27.8px;width:1148px;"><b>Figure 5.50</b>&nbsp; Beamshape loss <i>L<sub>p</sub></i><sub>2</sub> versus sample spacing &Delta;<sub><i>k</i></sub> for 2-D scan with cumulative detection for</div>
<div class="ln" style="left:250px;top:1721.62px;font-size:27.8px;">Case 1 with triangular grid (solid lines) and rectangular grid (dotted lines).</div>
<div class="ln" style="left:175.5px;top:1797.49px;font-size:34.4px;font-weight:bold;-webkit-text-stroke:0;">5.6.3</div>
<div class="ln" style="left:299.8px;top:1796.99px;font-size:35.0px;font-weight:bold;-webkit-text-stroke:0;">Processing Methods</div>
<div class="ln j" style="left:176px;top:1873.24px;font-size:34.7px;width:1148px;">Three processing methods have been considered in calculating beamshape loss:</div>
<div class="ln j" style="left:176px;top:1914.64px;font-size:34.7px;width:1148px;">integration of samples from each beam dwell, combination of detection probabili-</div>
<div class="ln j" style="left:176px;top:1956.04px;font-size:34.7px;width:1148px;">ties from each dwell into a cumulative probability of detection, and (for 2-D scan)</div>

</div></body></html>
